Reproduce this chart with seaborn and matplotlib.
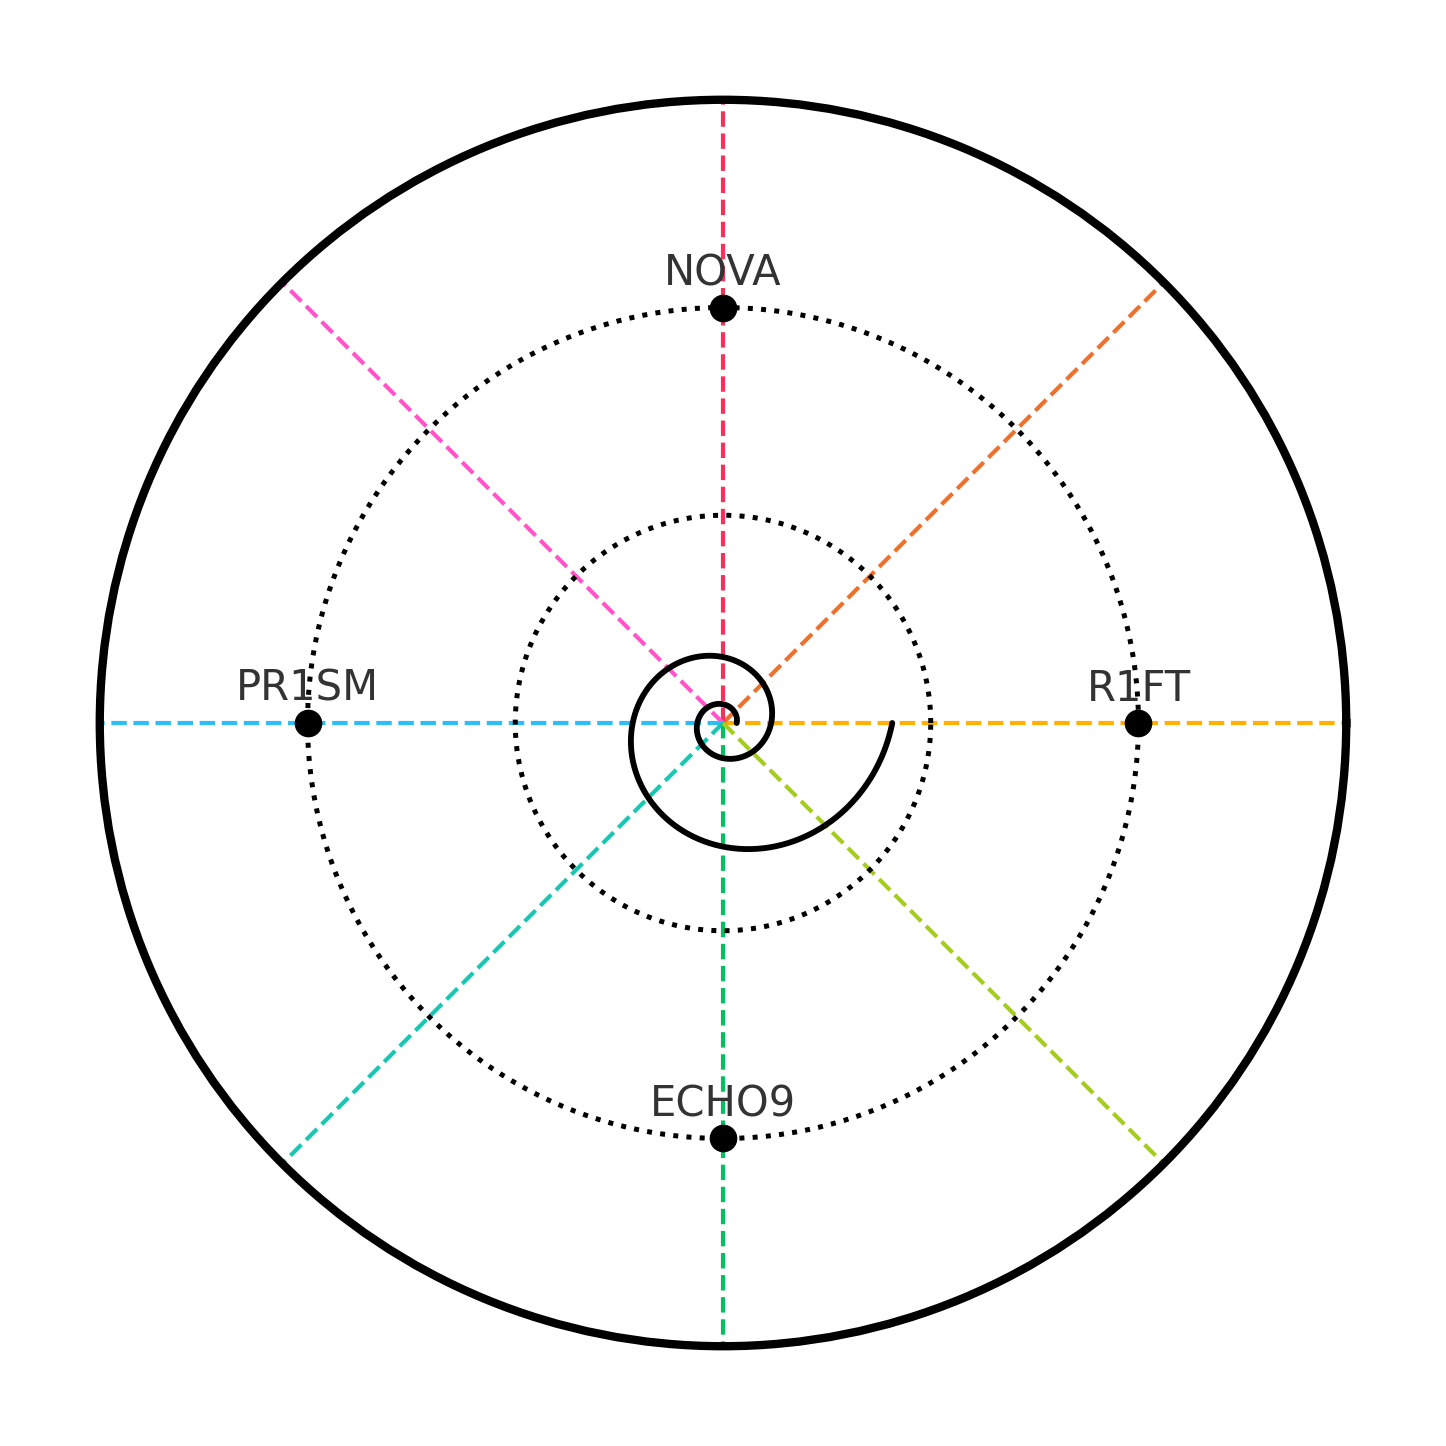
import matplotlib
matplotlib.use('Agg')
import matplotlib.pyplot as plt
import numpy as np
import pandas as pd
import seaborn as sns

sns.set_style('white')
plt.rcParams['font.family'] = ['DejaVu Sans']

# radial guide lines (angle in degrees -> colour)
ray_angles = [0, 45, 90, 135, 180, 225, 270, 315]
ray_colors = ['#FFB000', '#F0702A', '#F5325A', '#FF55C8',
              '#2CBEF5', '#14C8B4', '#00C060', '#A5CC22']

# dotted reference rings
ring_radii = [1, 2]
r_max = 3

# labelled points
point_names = ['R1FT', 'NOVA', 'PR1SM', 'ECHO9']
point_angles = [0, 90, 180, 270]
point_radii = [2, 2, 2, 2]

# logarithmic spiral r = a * exp(b * theta), two turns
spiral_a = 0.066
spiral_b = 0.2
spiral_turns = 2

fig = plt.figure(figsize=(7.23, 7.23), dpi=200)
ax = fig.add_axes([0.069, 0.069, 0.862, 0.862], projection='polar')

for ang, col in zip(ray_angles, ray_colors):
    t = np.deg2rad(ang)
    ax.plot([t, t], [0, r_max * 1.02], color=col, linestyle='--', linewidth=1.5, zorder=1)

circle_t = np.linspace(0, 2 * np.pi, 400)
for rr in ring_radii:
    ax.plot(circle_t, np.full_like(circle_t, rr), color='black',
            linestyle=':', linewidth=1.8, zorder=1)

theta = np.linspace(0, spiral_turns * 2 * np.pi, 800)
spiral = pd.DataFrame({'theta': theta, 'r': spiral_a * np.exp(spiral_b * theta)})
sns.lineplot(data=spiral, x='theta', y='r', sort=False, estimator=None,
             color='black', linewidth=2.1, ax=ax, zorder=3)

pts = pd.DataFrame({'theta': np.deg2rad(point_angles), 'r': point_radii, 'name': point_names})
sns.scatterplot(data=pts, x='theta', y='r', color='black', s=85,
                edgecolor='black', ax=ax, zorder=4)
for _, row in pts.iterrows():
    ax.annotate(row['name'], (row['theta'], row['r']), xytext=(0, 8),
                textcoords='offset points', ha='center', va='baseline',
                fontsize=15, color='#333333', zorder=5)

ax.set_ylim(0, r_max)
ax.set_xticks([])
ax.set_yticks([])
ax.grid(False)
ax.set_xlabel('')
ax.set_ylabel('')
ax.spines['polar'].set_linewidth(3)
ax.spines['polar'].set_color('black')

fig.savefig('out.png', dpi=200, facecolor='white')
